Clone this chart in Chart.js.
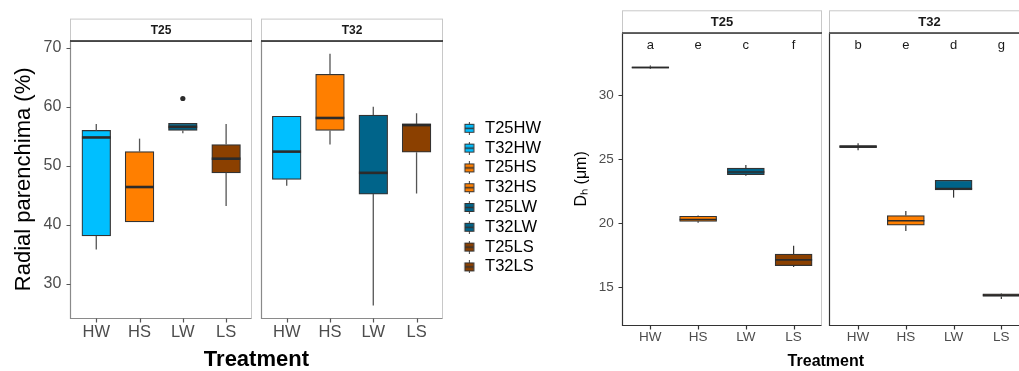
<!DOCTYPE html>
<html>
<head>
<meta charset="utf-8">
<script src="https://cdn.jsdelivr.net/npm/chart.js@4"></script>
<style>
  html, body { margin: 0; padding: 0; background: #fff; overflow: hidden; }
  #left { position: absolute; left: 0; top: 0; width: 551px; height: 371px; }
  #right { position: absolute; left: 560px; top: 0; width: 480px; height: 371px; }
</style>
</head>
<body>
<div id="left"><canvas id="parChart"></canvas></div>
<div id="right"><canvas id="dhChart"></canvas></div>
<script>
// categories and facets
const treatments = ['HW', 'HS', 'LW', 'LS'];
const temps = ['T25', 'T32'];
const boxColors = ['#00bfff', '#ff7f00', '#00648a', '#8b4000'];

// radial parenchyma (%), order HW HS LW LS
const rpT25Min = [35.8, 40.5, 55.5, 43.2];
const rpT25Q1  = [38.1, 40.5, 56.0, 48.8];
const rpT25Med = [54.8, 46.4, 56.6, 51.2];
const rpT25Q3  = [56.0, 52.4, 57.2, 53.6];
const rpT25Max = [57.1, 54.6, 57.2, 57.1];
const rpT25Out = [[], [], [61.4], []];

const rpT32Min = [46.6, 53.6, 26.3, 45.3];
const rpT32Q1  = [47.7, 56.0, 45.2, 52.3];
const rpT32Med = [52.4, 58.1, 48.8, 56.9];
const rpT32Q3  = [58.4, 65.5, 58.6, 57.1];
const rpT32Max = [58.4, 69.0, 60.0, 58.9];
const rpT32Out = [[], [], [], []];
const rpTicks = [30, 40, 50, 60, 70];

// hydraulic diameter Dh (um), order HW HS LW LS
const dhT25Min = [32.05, 20.05, 23.7, 16.6];
const dhT25Q1  = [32.1, 20.15, 23.8, 16.7];
const dhT25Med = [32.15, 20.3, 24.0, 17.15];
const dhT25Q3  = [32.2, 20.55, 24.3, 17.6];
const dhT25Max = [32.3, 20.6, 24.55, 18.25];

const dhT32Min = [25.7, 19.4, 22.0, 14.1];
const dhT32Q1  = [25.9, 19.85, 22.6, 14.3];
const dhT32Med = [26.0, 20.2, 22.7, 14.4];
const dhT32Q3  = [26.05, 20.6, 23.35, 14.5];
const dhT32Max = [26.25, 20.95, 23.35, 14.55];
const dhTicks = [15, 20, 25, 30];
const dhLettersT25 = ['a', 'e', 'c', 'f'];
const dhLettersT32 = ['b', 'e', 'd', 'g'];
const letterLevel = 33.9;

const FONT = '"Liberation Sans", Arial, sans-serif';
Chart.defaults.font.family = FONT;

// x position of a box: facet j, treatment i
function xPos(j, i, gap) { return i + 1 + j * (4.2 + gap); }

function makeDatasets(stats, gap) {
  const sets = [];
  treatments.forEach((tr, i) => {
    temps.forEach((tp, j) => {
      const s = stats[j];
      sets.push({
        label: tp + tr,
        data: [{ x: xPos(j, i, gap), y: [s.q1[i], s.q3[i]] }],
        backgroundColor: boxColors[i],
        box: { min: s.min[i], med: s.med[i], max: s.max[i], out: s.out ? s.out[i] : [] }
      });
    });
  });
  return sets;
}

// little boxplot glyph for the legend (padded on the left)
function glyph(color) {
  const c = document.createElement('canvas');
  c.width = 31; c.height = 13;
  const g = c.getContext('2d');
  const cx = 23.5;
  g.strokeStyle = '#444'; g.lineWidth = 1;
  g.beginPath(); g.moveTo(cx, 0); g.lineTo(cx, 13); g.stroke();
  g.fillStyle = color;
  g.fillRect(cx - 4.5, 2.5, 9, 8);
  g.strokeStyle = '#333';
  g.strokeRect(cx - 4.5, 2.5, 9, 8);
  g.lineWidth = 1.5;
  g.beginPath(); g.moveTo(cx - 4.5, 6.5); g.lineTo(cx + 4.5, 6.5); g.stroke();
  return c;
}
const glyphs = boxColors.map(glyph);

function facetPlugin(cfg) {
  return {
    id: 'facets' + cfg.name,
    beforeDatasetsDraw(chart) {
      const { ctx, chartArea: a, scales: { x, y } } = chart;
      ctx.save();
      const top = Math.round(a.top), bot = Math.round(a.bottom) + 0.5;
      temps.forEach((t, j) => {
        const x0 = Math.round(x.getPixelForValue(0.4 + j * (4.2 + cfg.gap))) + 0.5;
        const x1 = Math.round(x.getPixelForValue(4.6 + j * (4.2 + cfg.gap))) - 0.5;
        ctx.lineWidth = 1;
        ctx.strokeStyle = cfg.frame;
        ctx.beginPath(); ctx.moveTo(x1, top); ctx.lineTo(x1, bot); ctx.stroke();
        ctx.strokeStyle = cfg.axis; ctx.lineWidth = cfg.axisW;
        ctx.beginPath(); ctx.moveTo(x0, top); ctx.lineTo(x0, bot); ctx.lineTo(x1, bot); ctx.stroke();
        // x tick marks under each box
        ctx.strokeStyle = cfg.tick; ctx.lineWidth = 1.2;
        ctx.beginPath();
        treatments.forEach((tr, i) => {
          const tx = Math.round(x.getPixelForValue(xPos(j, i, cfg.gap))) + 0.5;
          ctx.moveTo(tx, bot); ctx.lineTo(tx, bot + cfg.tickLen);
        });
        ctx.stroke();
        // strip
        const sTop = top - cfg.stripH;
        ctx.strokeStyle = cfg.frame; ctx.lineWidth = 1;
        ctx.strokeRect(x0, sTop + 0.5, x1 - x0, cfg.stripH);
        ctx.strokeStyle = cfg.stripLine; ctx.lineWidth = 1.6;
        ctx.beginPath(); ctx.moveTo(x0 - 0.5, top); ctx.lineTo(x1 + 0.5, top); ctx.stroke();
        ctx.fillStyle = '#1a1a1a';
        ctx.font = 'bold ' + cfg.stripFont + 'px ' + FONT;
        ctx.textAlign = 'center'; ctx.textBaseline = 'middle';
        ctx.fillText(t, (x0 + x1) / 2, sTop + cfg.stripH / 2 + 1);
      });
      // y tick marks on the first panel
      const x0 = Math.round(x.getPixelForValue(0.4)) + 0.5;
      ctx.strokeStyle = cfg.tick; ctx.lineWidth = 1.2;
      ctx.beginPath();
      cfg.yTicks.forEach(v => {
        const ty = Math.round(y.getPixelForValue(v)) + 0.5;
        ctx.moveTo(x0, ty); ctx.lineTo(x0 - cfg.tickLen, ty);
      });
      ctx.stroke();
      ctx.restore();
    }
  };
}

function boxPlugin(cfg) {
  return {
    id: 'boxes' + cfg.name,
    afterDatasetsDraw(chart) {
      const { ctx, scales: { x, y } } = chart;
      ctx.save();
      chart.data.datasets.forEach(ds => {
        const p = ds.data[0], b = ds.box;
        const px = x.getPixelForValue(p.x);
        const h = cfg.boxW / 2;
        ctx.strokeStyle = cfg.whisker; ctx.lineWidth = cfg.whiskerW;
        ctx.beginPath();
        ctx.moveTo(px, y.getPixelForValue(b.min)); ctx.lineTo(px, y.getPixelForValue(p.y[0]));
        ctx.moveTo(px, y.getPixelForValue(p.y[1])); ctx.lineTo(px, y.getPixelForValue(b.max));
        ctx.stroke();
        ctx.strokeStyle = '#2b2b2b'; ctx.lineWidth = cfg.medW;
        const my = y.getPixelForValue(b.med);
        ctx.beginPath(); ctx.moveTo(px - h, my); ctx.lineTo(px + h, my); ctx.stroke();
        ctx.fillStyle = '#2b2b2b';
        b.out.forEach(v => {
          ctx.beginPath(); ctx.arc(px, y.getPixelForValue(v), 2.6, 0, Math.PI * 2); ctx.fill();
        });
        if (cfg.letters) {
          const j = temps.indexOf(ds.label.slice(0, 3));
          const i = treatments.indexOf(ds.label.slice(3));
          ctx.fillStyle = '#1a1a1a';
          ctx.font = cfg.letterFont + 'px ' + FONT;
          ctx.textAlign = 'center'; ctx.textBaseline = 'middle';
          ctx.fillText(cfg.letters[j][i], px, y.getPixelForValue(letterLevel));
        }
      });
      ctx.restore();
    }
  };
}

const noLine = 'rgba(0,0,0,0)';

// ---------- left: radial parenchyma ----------
const rpGap = 0.2;
const rpStats = [
  { min: rpT25Min, q1: rpT25Q1, med: rpT25Med, q3: rpT25Q3, max: rpT25Max, out: rpT25Out },
  { min: rpT32Min, q1: rpT32Q1, med: rpT32Med, q3: rpT32Q3, max: rpT32Max, out: rpT32Out }
];
const rpXTicks = [0, 1].flatMap(j => treatments.map((t, i) => xPos(j, i, rpGap)));

new Chart(document.getElementById('parChart'), {
  type: 'bar',
  data: { datasets: makeDatasets(rpStats, rpGap) },
  options: {
    responsive: true,
    maintainAspectRatio: false,
    animation: false,
    events: [],
    layout: { padding: { top: 24.2, right: 0, bottom: 0, left: 0 } },
    datasets: {
      bar: { grouped: false, barThickness: 28.7, borderColor: '#333', borderWidth: 1.2, borderSkipped: false }
    },
    scales: {
      x: {
        type: 'linear', min: 0.4, max: 9.0, offset: false,
        afterBuildTicks: s => { s.ticks = rpXTicks.map(v => ({ value: v })); },
        afterFit: s => { s.height = 53; },
        grid: { offset: false, drawOnChartArea: false, drawTicks: true, tickLength: 4, color: noLine },
        border: { display: false },
        ticks: {
          autoSkip: false, maxRotation: 0, padding: 2, color: '#4d4d4d',
          font: { size: 16.5, lineHeight: 1 },
          callback: (v, i) => treatments[i % 4]
        },
        title: { display: true, text: 'Treatment', color: '#000', font: { size: 22, weight: 'bold', lineHeight: 1 }, padding: { top: 0, bottom: 0 } }
      },
      // empty band above the panels that holds the facet strips
      strip: {
        type: 'linear', position: 'top', min: 0.4, max: 9.0,
        grid: { display: false }, ticks: { display: false }, border: { display: false },
        afterFit: s => { s.height = 16.5; }
      },
      y: {
        min: 24.2, max: 71.2,
        afterBuildTicks: s => { s.ticks = rpTicks.map(v => ({ value: v })); },
        afterFit: s => { s.width = 70.3; },
        grid: { drawOnChartArea: false, drawTicks: true, tickLength: 5, color: noLine },
        border: { display: false },
        ticks: { color: '#4d4d4d', font: { size: 16 }, padding: 4 },
        title: { display: true, text: 'Radial parenchima (%)', color: '#000', font: { size: 22, lineHeight: 1 }, padding: { top: 13, bottom: 0 } }
      }
    },
    plugins: {
      tooltip: { enabled: false },
      legend: {
        position: 'right',
        labels: {
          usePointStyle: true, pointStyleWidth: 31, padding: 3.3,
          color: '#1a1a1a', font: { size: 16.5 },
          generateLabels: chart => chart.data.datasets.map((ds, i) => ({
            text: ds.label, pointStyle: glyphs[Math.floor(i / 2)], fillStyle: ds.backgroundColor,
            strokeStyle: '#333', lineWidth: 0, hidden: false, datasetIndex: i
          }))
        }
      }
    }
  },
  plugins: [
    facetPlugin({ name: 'rp', gap: rpGap, stripH: 22.4, stripFont: 12, frame: '#c8c8c8', axis: '#8a8a8a', axisW: 1.2,
      stripLine: '#1a1a1a', tick: '#555', tickLen: 4, yTicks: rpTicks }),
    boxPlugin({ name: 'rp', boxW: 28.7, whisker: '#555', whiskerW: 1.3, medW: 2.6 })
  ]
});

// ---------- right: Dh ----------
const dhGap = 0.15;
const dhStats = [
  { min: dhT25Min, q1: dhT25Q1, med: dhT25Med, q3: dhT25Q3, max: dhT25Max },
  { min: dhT32Min, q1: dhT32Q1, med: dhT32Med, q3: dhT32Q3, max: dhT32Max }
];
const dhXTicks = [0, 1].flatMap(j => treatments.map((t, i) => xPos(j, i, dhGap)));

new Chart(document.getElementById('dhChart'), {
  type: 'bar',
  data: { datasets: makeDatasets(dhStats, dhGap) },
  options: {
    responsive: true,
    maintainAspectRatio: false,
    animation: false,
    events: [],
    layout: { padding: { top: 32.7, right: 10, bottom: 0, left: 0 } },
    datasets: {
      bar: { grouped: false, barThickness: 37, borderColor: '#333', borderWidth: 1.2, borderSkipped: false }
    },
    scales: {
      x: {
        type: 'linear', min: 0.4, max: 8.95, offset: false,
        afterBuildTicks: s => { s.ticks = dhXTicks.map(v => ({ value: v })); },
        afterFit: s => { s.height = 46; },
        grid: { offset: false, drawOnChartArea: false, drawTicks: true, tickLength: 4, color: noLine },
        border: { display: false },
        ticks: {
          autoSkip: false, maxRotation: 0, padding: 2, color: '#4d4d4d',
          font: { size: 13.5, lineHeight: 1 },
          callback: (v, i) => treatments[i % 4]
        },
        title: { display: true, text: 'Treatment', color: '#000', font: { size: 16, weight: 'bold', lineHeight: 1 }, padding: { top: 0, bottom: 1 } }
      },
      y: {
        min: 12.07, max: 34.86,
        afterBuildTicks: s => { s.ticks = dhTicks.map(v => ({ value: v })); },
        afterFit: s => { s.width = 61.7; },
        grid: { drawOnChartArea: false, drawTicks: true, tickLength: 4, color: noLine },
        border: { display: false },
        ticks: { color: '#4d4d4d', font: { size: 13.5 }, padding: 4 },
        title: { display: true, text: 'D\u2095 (\u03bcm)', color: '#000', font: { size: 16, lineHeight: 1 }, padding: { top: 13.7, bottom: 0 } }
      }
    },
    plugins: {
      tooltip: { enabled: false },
      legend: { display: false }
    }
  },
  plugins: [
    facetPlugin({ name: 'dh', gap: dhGap, stripH: 22.7, stripFont: 13, frame: '#c8c8c8', axis: '#333', axisW: 1.2,
      stripLine: '#333', tick: '#333', tickLen: 4, yTicks: dhTicks }),
    boxPlugin({ name: 'dh', boxW: 37, whisker: '#333', whiskerW: 1.2, medW: 1.6, letters: [dhLettersT25, dhLettersT32], letterFont: 13 })
  ]
});
</script>
</body>
</html>
